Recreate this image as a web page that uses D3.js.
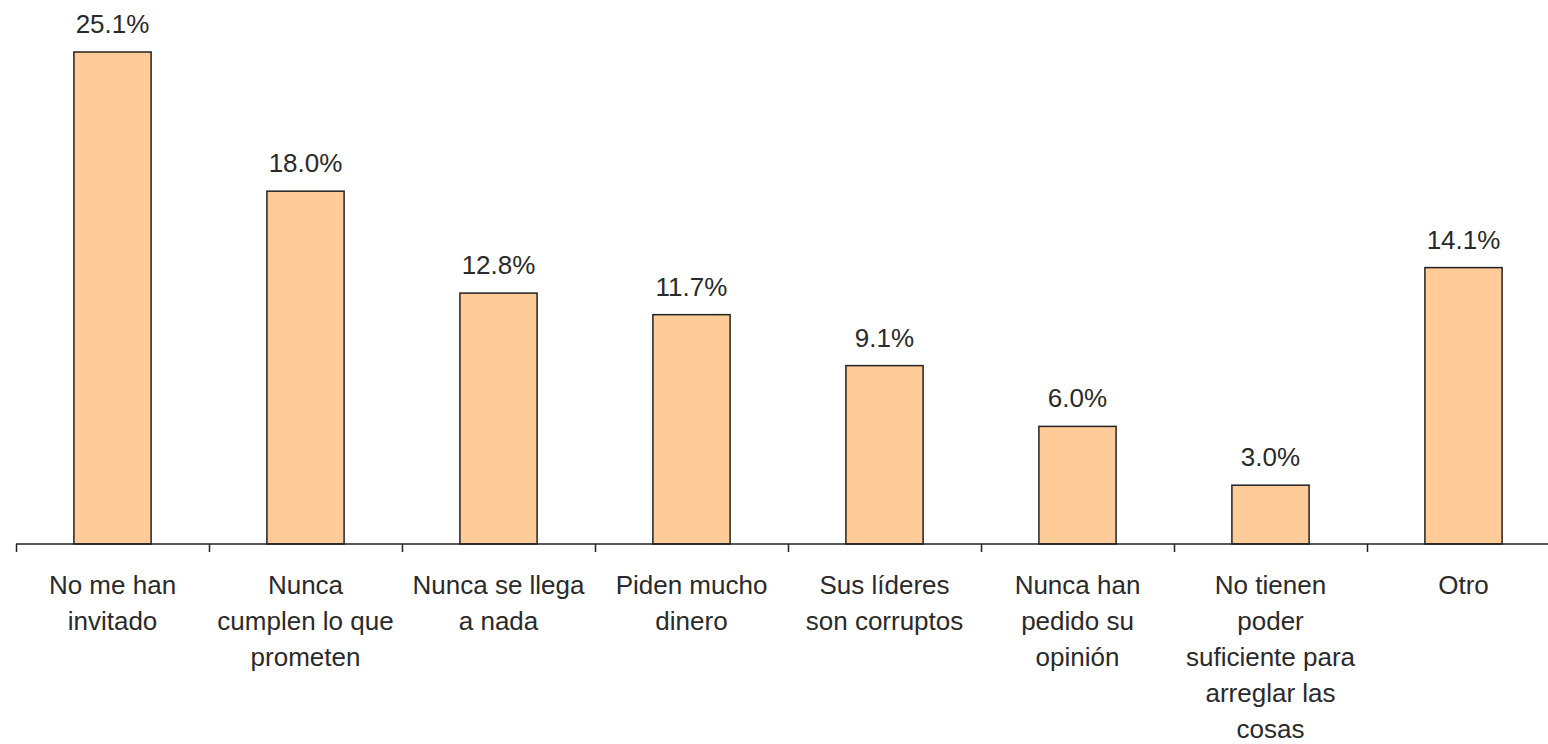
<!DOCTYPE html>
<html>
<head>
<meta charset="utf-8">
<script src="https://cdn.jsdelivr.net/npm/d3@7/dist/d3.min.js"></script>
<style>
  html, body { margin: 0; padding: 0; background: #ffffff; }
  svg { display: block; }
  text { font-family: Arial, "Liberation Sans", sans-serif; fill: #2a2a2a; }
</style>
</head>
<body>
<svg id="chart" width="1548" height="744"></svg>
<script>
const categories = [
  "No me han\ninvitado",
  "Nunca\ncumplen lo que\nprometen",
  "Nunca se llega\na nada",
  "Piden mucho\ndinero",
  "Sus líderes\nson corruptos",
  "Nunca han\npedido su\nopinión",
  "No tienen\npoder\nsuficiente para\narreglar las\ncosas",
  "Otro"
];
const values = [25.1, 18.0, 12.8, 11.7, 9.1, 6.0, 3.0, 14.1];
const valueLabels = ["25.1%", "18.0%", "12.8%", "11.7%", "9.1%", "6.0%", "3.0%", "14.1%"];

const svg = d3.select("#chart");
const baseY = 544;

const x = d3.scaleBand()
  .domain(categories)
  .range([16, 1560])
  .padding(0);

const y = d3.scaleLinear()
  .domain([0, 25.1])
  .range([baseY, 52]);

const bw = x.bandwidth();
const barW = bw * 0.4;
const cx = d => x(d) + bw / 2;

// bars
svg.append("g").selectAll("rect")
  .data(values)
  .join("rect")
  .attr("x", (d, i) => cx(categories[i]) - barW / 2)
  .attr("y", d => y(d))
  .attr("width", barW)
  .attr("height", d => y(0) - y(d))
  .attr("fill", "#FFCC99")
  .attr("stroke", "#222")
  .attr("stroke-width", 1.5);

// value labels
svg.append("g").selectAll("text")
  .data(values)
  .join("text")
  .attr("x", (d, i) => cx(categories[i]))
  .attr("y", d => y(d) - 19)
  .attr("text-anchor", "middle")
  .attr("font-size", 26)
  .text((d, i) => valueLabels[i]);

// axis line
svg.append("line")
  .attr("x1", 16).attr("x2", 1548)
  .attr("y1", baseY).attr("y2", baseY)
  .attr("stroke", "#222").attr("stroke-width", 1.5);

// ticks at band boundaries
const tickXs = categories.map(c => x(c)).concat([x.range()[1]]);
svg.append("g").selectAll("line")
  .data(tickXs)
  .join("line")
  .attr("x1", d => Math.round(d) + 0.5)
  .attr("x2", d => Math.round(d) + 0.5)
  .attr("y1", baseY)
  .attr("y2", baseY + 8)
  .attr("stroke", "#222").attr("stroke-width", 1.5);

// category labels
const lab = svg.append("g").selectAll("text")
  .data(categories)
  .join("text")
  .attr("text-anchor", "middle")
  .attr("font-size", 26)
  .attr("transform", d => `translate(${cx(d)},594)`);
lab.each(function(d) {
  const t = d3.select(this);
  d.split("\n").forEach((line, k) => {
    t.append("tspan").attr("x", 0).attr("y", k * 36).text(line);
  });
});
</script>
</body>
</html>
